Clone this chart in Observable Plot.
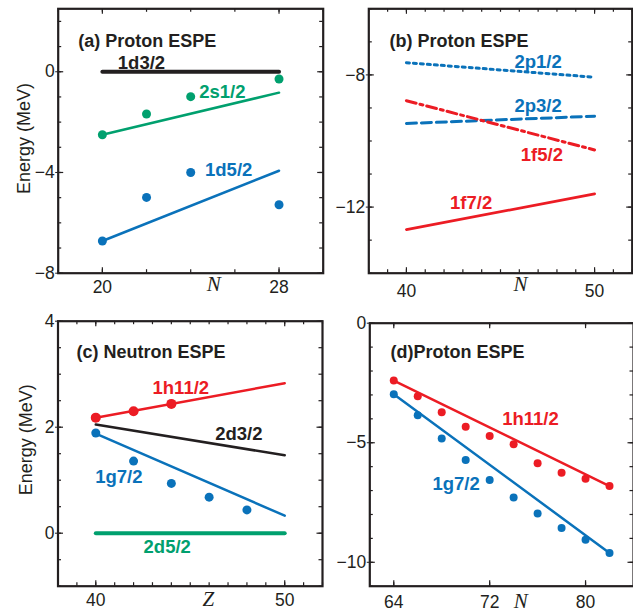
<!DOCTYPE html>
<html><head><meta charset="utf-8">
<script src="https://cdn.jsdelivr.net/npm/d3@7"></script>
<script src="https://cdn.jsdelivr.net/npm/@observablehq/plot@0.6"></script>
<style>
body{margin:0;background:#fff;}
#root{position:relative;width:633px;height:613px;overflow:hidden;background:#fff;}
#root svg{position:absolute;overflow:visible;background:transparent;}
</style></head><body><div id="root"></div>
<script>
// ---------- Panel (a): proton ESPE vs N ----------
const aPointN = [20, 22, 24, 28];
const a2s12Points = [-2.5, -1.68, -0.99, -0.29];
const a1d52Points = [-6.72, -4.99, -4.0, -5.28];
const aLineN = [20, 28];
const a1d32Line = [0, 0];
const a2s12Line = [-2.5, -0.83];
const a1d52Line = [-6.72, -3.93];
const aLabels = ["1d3/2", "2s1/2", "1d5/2"];
const aLabelX = [21.77, 25.43, 25.72];
const aLabelY = [0.33, -0.82, -3.89];

// ---------- Panel (b): proton ESPE vs N ----------
const bLineN = [40, 50];
const b2p12Line = [-7.63, -8.07];
const b2p32Line = [-9.47, -9.25];
const b1f52Line = [-8.78, -10.27];
const b1f72Line = [-12.68, -11.6];
const bLabels = ["2p1/2", "2p3/2", "1f5/2", "1f7/2"];
const bLabelX = [47.0, 47.0, 47.2, 43.44];
const bLabelY = [-7.6, -8.93, -10.43, -11.87];

// ---------- Panel (c): neutron ESPE vs Z ----------
const c1h112PointZ = [40, 42, 44];
const c1h112Points = [2.18, 2.30, 2.44];
const c1g72PointZ = [40, 42, 44, 46, 48];
const c1g72Points = [1.89, 1.36, 0.94, 0.68, 0.44];
const cLineZ = [40, 50];
const c1h112Line = [2.18, 2.83];
const c2d32Line = [2.05, 1.47];
const c1g72Line = [1.88, 0.33];
const c2d52Line = [0, 0];
const cLabels = ["1h11/2", "2d3/2", "1g7/2", "2d5/2"];
const cLabelX = [44.5, 47.57, 41.22, 43.78];
const cLabelY = [2.74, 1.875, 1.06, -0.26];

// ---------- Panel (d): proton ESPE vs N ----------
const dPointN = [64, 66, 68, 70, 72, 74, 76, 78, 80, 82];
const d1h112Points = [-2.40, -3.06, -3.72, -4.33, -4.72, -5.06, -5.86, -6.25, -6.51, -6.81];
const d1g72Points = [-2.97, -3.85, -4.82, -5.72, -6.56, -7.29, -7.96, -8.57, -9.06, -9.61];
const dLineN = [64, 82];
const d1h112Line = [-2.40, -6.81];
const d1g72Line = [-2.97, -9.61];
const dLabels = ["1h11/2", "1g7/2"];
const dLabelX = [75.4, 69.2];
const dLabelY = [-4.0, -6.72];

// ---------- Titles and tick values ----------
const titles = ["(a) Proton ESPE", "(b) Proton ESPE", "(c) Neutron ESPE", "(d)Proton ESPE"];
const yTitle = "Energy (MeV)";
const xTitles = ["N", "N", "Z", "N"];
const aXMajor = [20, 28], aYMajor = [-8, -4, 0];
const bXMajor = [40, 50], bYMajor = [-12, -8];
const cXMajor = [40, 50], cYMajor = [0, 2, 4];
const dXMajor = [64, 72, 80], dYMajor = [-10, -5, 0];

// ---------- styles ----------
const INK = "#231f20", GREEN = "#00a06e", BLUE = "#0a72ba", RED = "#ec1c24";
const SANS = "'Liberation Sans', Arial, Helvetica, sans-serif";
const SERIF = "'Liberation Serif', 'Times New Roman', serif";

const rows = (xs, ys) => xs.map((x, i) => ({x, y: ys[i]}));
const seq = (a, b, s) => d3.range(a, b + s / 2, s);
const fmt = d => String(d).replace("-", "\u2212");

function panel(o) {
  const [mt, mr, mb, ml] = o.margins;
  const fw = o.width - ml - mr, fh = o.height - mt - mb;
  const tk = {stroke: INK, strokeWidth: 1.2};
  const marks = [
    Plot.tickY(o.yMinor, {y: d => d, insetRight: fw - 3.5, ...tk}),
    Plot.tickY(o.yMinor, {y: d => d, insetLeft: fw - 3.5, ...tk}),
    Plot.tickY(o.yMajor, {y: d => d, insetRight: fw - 5.5, ...tk}),
    Plot.tickY(o.yMajor, {y: d => d, insetLeft: fw - 5.5, ...tk}),
    Plot.tickX(o.xMinor, {x: d => d, insetTop: fh - 3.5, ...tk}),
    Plot.tickX(o.xMinor, {x: d => d, insetBottom: fh - 3.5, ...tk}),
    Plot.tickX(o.xMajor, {x: d => d, insetTop: fh - 5.5, ...tk}),
    Plot.tickX(o.xMajor, {x: d => d, insetBottom: fh - 5.5, ...tk}),
    Plot.axisY(o.yMajor, {anchor: "left", tickSize: 2.5, tickPadding: 1, tickFormat: fmt, fontSize: 17.5, color: INK, label: null, fontFamily: SANS}),
    Plot.axisX(o.xMajor, {anchor: "bottom", tickSize: 0, tickPadding: o.xPad, tickFormat: fmt, fontSize: 17.5, color: INK, label: null, fontFamily: SANS}),
    ...o.marks,
    Plot.text([o.title], {frameAnchor: "top-left", dx: o.titleDx, dy: o.titleDy, textAnchor: "start", fontWeight: "bold", fontSize: 18, fill: INK, fontFamily: SANS}),
    Plot.text([o.xTitle], {frameAnchor: "bottom", dx: o.xtDx, dy: o.xtDy, fontStyle: "italic", fontSize: 21, fill: INK, fontFamily: SERIF}),
    Plot.frame({stroke: INK, strokeWidth: 2.2})
  ];
  if (o.yTitleDx != null) marks.push(Plot.text([yTitle], {frameAnchor: "left", textAnchor: "middle", rotate: -90, dx: o.yTitleDx, dy: o.yTitleDy, fontSize: 18, fill: INK, fontFamily: SANS}));
  const svg = Plot.plot({
    width: o.width, height: o.height,
    marginTop: mt, marginRight: mr, marginBottom: mb, marginLeft: ml,
    x: {domain: o.xDomain, axis: null},
    y: {domain: o.yDomain, axis: null},
    style: {fontFamily: SANS, background: "transparent", overflow: "visible"},
    marks
  });
  svg.style.left = o.left + "px";
  svg.style.top = o.top + "px";
  document.getElementById("root").appendChild(svg);
}

const lbl = (names, xs, ys, colors) => Plot.text(names.map((t, i) => ({t, x: xs[i], y: ys[i], c: colors[i]})),
  {x: "x", y: "y", text: "t", fill: "c", fontWeight: "bold", fontSize: 18.5, fontFamily: SANS});

// (a)
panel({
  left: 0, top: 0, width: 326, height: 300, margins: [8.3, 3.3, 27.3, 57.7],
  xDomain: [18, 30], yDomain: [-8, 2.5],
  xMinor: seq(18, 30, 2), xMajor: aXMajor, yMinor: seq(-8, 2, 1), yMajor: aYMajor, xPad: 7.3,
  title: titles[0], titleDx: 20, titleDy: 25, xTitle: xTitles[0], xtDx: 23, xtDy: 17.5,
  yTitleDx: -34, yTitleDy: -2.5,
  marks: [
    Plot.line(rows(aLineN, a1d32Line), {x: "x", y: "y", stroke: INK, strokeWidth: 4}),
    Plot.line(rows(aLineN, a2s12Line), {x: "x", y: "y", stroke: GREEN, strokeWidth: 2.5}),
    Plot.line(rows(aLineN, a1d52Line), {x: "x", y: "y", stroke: BLUE, strokeWidth: 2.5}),
    Plot.dot(rows(aPointN, a2s12Points), {x: "x", y: "y", r: 4.5, fill: GREEN}),
    Plot.dot(rows(aPointN, a1d52Points), {x: "x", y: "y", r: 4.5, fill: BLUE}),
    lbl(aLabels, aLabelX, aLabelY, [INK, GREEN, BLUE])
  ]
});

// (b)
panel({
  left: 326, top: 0, width: 307, height: 300, margins: [8.3, 1.3, 27.3, 42.3],
  xDomain: [38, 52], yDomain: [-14, -6],
  xMinor: seq(38, 52, 1), xMajor: bXMajor, yMinor: seq(-14, -6, 1), yMajor: bYMajor, xPad: 11,
  title: titles[1], titleDx: 20.7, titleDy: 25, xTitle: xTitles[1], xtDx: 20, xtDy: 18,
  marks: [
    Plot.line(rows(bLineN, b2p12Line), {x: "x", y: "y", stroke: BLUE, strokeWidth: 3, strokeDasharray: "3,4"}),
    Plot.line(rows(bLineN, b2p32Line), {x: "x", y: "y", stroke: BLUE, strokeWidth: 3, strokeDasharray: "10,5"}),
    Plot.line(rows(bLineN, b1f52Line), {x: "x", y: "y", stroke: RED, strokeWidth: 3, strokeDasharray: "10,4,3,4"}),
    Plot.line(rows(bLineN, b1f72Line), {x: "x", y: "y", stroke: RED, strokeWidth: 2.8}),
    lbl(bLabels, bLabelX, bLabelY, [BLUE, BLUE, RED, RED])
  ]
});

// (c)
panel({
  left: 0, top: 300, width: 326, height: 313, margins: [20.7, 4, 27.3, 57.5],
  xDomain: [38, 52], yDomain: [-1, 4],
  xMinor: seq(38, 52, 1), xMajor: cXMajor, yMinor: seq(-1, 4, 0.5), yMajor: cYMajor, xPad: 7.6,
  title: titles[2], titleDx: 18.5, titleDy: 24.3, xTitle: xTitles[2], xtDx: 18, xtDy: 20,
  yTitleDx: -32, yTitleDy: -14,
  marks: [
    Plot.line(rows(cLineZ, c2d52Line), {x: "x", y: "y", stroke: GREEN, strokeWidth: 4}),
    Plot.line(rows(cLineZ, c2d32Line), {x: "x", y: "y", stroke: INK, strokeWidth: 2.5}),
    Plot.line(rows(cLineZ, c1g72Line), {x: "x", y: "y", stroke: BLUE, strokeWidth: 2.5}),
    Plot.line(rows(cLineZ, c1h112Line), {x: "x", y: "y", stroke: RED, strokeWidth: 2.5}),
    Plot.dot(rows(c1g72PointZ, c1g72Points), {x: "x", y: "y", r: 4.5, fill: BLUE}),
    Plot.dot(rows(c1h112PointZ, c1h112Points), {x: "x", y: "y", r: 5, fill: RED}),
    lbl(cLabels, cLabelX, cLabelY, [RED, INK, BLUE, GREEN])
  ]
});

// (d)
panel({
  left: 326, top: 300, width: 307, height: 313, margins: [22.7, 0, 27.3, 43.3],
  xDomain: [62, 84], yDomain: [-11, 0],
  xMinor: dXMajor, xMajor: dXMajor, yMinor: seq(-11, 0, 1), yMajor: dYMajor, xPad: 9.3,
  title: titles[3], titleDx: 20.7, titleDy: 22.3, xTitle: xTitles[3], xtDx: 19, xtDy: 22,
  marks: [
    Plot.line(rows(dLineN, d1h112Line), {x: "x", y: "y", stroke: RED, strokeWidth: 2.5}),
    Plot.line(rows(dLineN, d1g72Line), {x: "x", y: "y", stroke: BLUE, strokeWidth: 2.5}),
    Plot.dot(rows(dPointN, d1h112Points), {x: "x", y: "y", r: 4, fill: RED}),
    Plot.dot(rows(dPointN, d1g72Points), {x: "x", y: "y", r: 4, fill: BLUE}),
    lbl(dLabels, dLabelX, dLabelY, [RED, BLUE])
  ]
});
</script></body></html>
